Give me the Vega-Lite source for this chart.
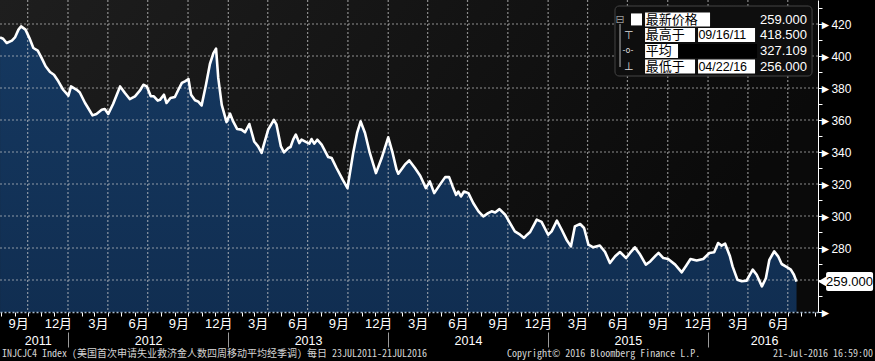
{
  "$schema": "https://vega.github.io/schema/vega-lite/v6.json",
  "width": 818,
  "height": 312,
  "autosize": {"type": "none"},
  "padding": {"left": 0, "top": 0, "right": 57, "bottom": 49},
  "background": "#000000",
  "config": {
    "view": {"stroke": null, "fill": {"gradient": "linear", "x1": 0, "y1": 0, "x2": 1, "y2": 0.3, "stops": [{"offset": 0, "color": "#1e1e1e"}, {"offset": 1, "color": "#0a0a0a"}]}},
    "axis": {"labelFont": "Liberation Sans, Noto Sans CJK SC", "labelColor": "#ffffff", "tickColor": "#ffffff", "domainColor": "#ffffff", "labelFontSize": 13, "grid": false},
    "text": {"baseline": "middle"}
  },
  "datasets": {
    "claims": [
      {"date": "2011-07-30", "value": 411.6}, {"date": "2011-08-06", "value": 410.8}, {"date": "2011-08-14", "value": 408.1}, {"date": "2011-08-26", "value": 409.6},
      {"date": "2011-09-02", "value": 411.6}, {"date": "2011-09-10", "value": 416.5}, {"date": "2011-09-16", "value": 418.5}, {"date": "2011-09-26", "value": 416.5},
      {"date": "2011-10-05", "value": 411.2}, {"date": "2011-10-14", "value": 405.0}, {"date": "2011-10-24", "value": 403.3}, {"date": "2011-11-02", "value": 398.7},
      {"date": "2011-11-11", "value": 393.6}, {"date": "2011-11-21", "value": 390.0}, {"date": "2011-11-30", "value": 388.3}, {"date": "2011-12-10", "value": 384.2},
      {"date": "2011-12-21", "value": 378.9}, {"date": "2012-01-02", "value": 375.2}, {"date": "2012-01-08", "value": 381.0}, {"date": "2012-01-21", "value": 378.9},
      {"date": "2012-01-28", "value": 377.2}, {"date": "2012-02-09", "value": 370.6}, {"date": "2012-02-16", "value": 367.5}, {"date": "2012-02-26", "value": 362.9},
      {"date": "2012-03-06", "value": 363.8}, {"date": "2012-03-18", "value": 366.4}, {"date": "2012-03-25", "value": 366.9}, {"date": "2012-04-02", "value": 363.8},
      {"date": "2012-04-13", "value": 370.0}, {"date": "2012-04-29", "value": 381.0}, {"date": "2012-05-10", "value": 376.9}, {"date": "2012-05-21", "value": 373.1},
      {"date": "2012-06-02", "value": 374.8}, {"date": "2012-06-13", "value": 378.3}, {"date": "2012-06-21", "value": 382.0}, {"date": "2012-06-29", "value": 381.0},
      {"date": "2012-07-08", "value": 374.8}, {"date": "2012-07-15", "value": 374.8}, {"date": "2012-07-24", "value": 372.1}, {"date": "2012-07-29", "value": 372.6},
      {"date": "2012-08-07", "value": 375.8}, {"date": "2012-08-13", "value": 370.6}, {"date": "2012-08-22", "value": 373.8}, {"date": "2012-09-01", "value": 374.4},
      {"date": "2012-09-09", "value": 378.9}, {"date": "2012-09-17", "value": 383.2}, {"date": "2012-09-24", "value": 384.2}, {"date": "2012-10-02", "value": 385.6},
      {"date": "2012-10-08", "value": 375.8}, {"date": "2012-10-17", "value": 372.3}, {"date": "2012-10-24", "value": 371.6}, {"date": "2012-11-01", "value": 369.1},
      {"date": "2012-11-11", "value": 382.0}, {"date": "2012-11-20", "value": 395.0}, {"date": "2012-11-28", "value": 401.8}, {"date": "2012-12-04", "value": 404.6},
      {"date": "2012-12-09", "value": 386.3}, {"date": "2012-12-17", "value": 369.5}, {"date": "2012-12-28", "value": 358.7}, {"date": "2013-01-05", "value": 364.0},
      {"date": "2013-01-12", "value": 359.1}, {"date": "2013-01-21", "value": 354.4}, {"date": "2013-01-31", "value": 354.0}, {"date": "2013-02-08", "value": 352.3},
      {"date": "2013-02-18", "value": 357.5}, {"date": "2013-03-01", "value": 346.6}, {"date": "2013-03-10", "value": 343.5}, {"date": "2013-03-18", "value": 339.4},
      {"date": "2013-03-22", "value": 343.5}, {"date": "2013-04-02", "value": 354.0}, {"date": "2013-04-15", "value": 360.1}, {"date": "2013-04-21", "value": 357.1},
      {"date": "2013-05-01", "value": 343.5}, {"date": "2013-05-08", "value": 339.8}, {"date": "2013-05-18", "value": 342.5}, {"date": "2013-05-23", "value": 343.1},
      {"date": "2013-05-29", "value": 347.7}, {"date": "2013-06-04", "value": 350.9}, {"date": "2013-06-12", "value": 345.6}, {"date": "2013-06-17", "value": 347.7},
      {"date": "2013-06-29", "value": 346.0}, {"date": "2013-07-05", "value": 345.2}, {"date": "2013-07-10", "value": 348.1}, {"date": "2013-07-16", "value": 345.2},
      {"date": "2013-07-23", "value": 347.7}, {"date": "2013-08-02", "value": 344.6}, {"date": "2013-08-17", "value": 336.8}, {"date": "2013-08-25", "value": 336.2},
      {"date": "2013-09-05", "value": 330.0}, {"date": "2013-09-19", "value": 322.7}, {"date": "2013-09-30", "value": 317.4}, {"date": "2013-10-13", "value": 339.4},
      {"date": "2013-10-22", "value": 351.9}, {"date": "2013-10-30", "value": 359.1}, {"date": "2013-11-09", "value": 351.9}, {"date": "2013-11-20", "value": 339.4},
      {"date": "2013-12-04", "value": 326.8}, {"date": "2013-12-17", "value": 336.2}, {"date": "2014-01-01", "value": 349.2}, {"date": "2014-01-11", "value": 339.4},
      {"date": "2014-01-20", "value": 329.0}, {"date": "2014-01-24", "value": 326.4}, {"date": "2014-02-08", "value": 332.1}, {"date": "2014-02-18", "value": 334.7},
      {"date": "2014-03-03", "value": 330.0}, {"date": "2014-03-15", "value": 325.2}, {"date": "2014-03-28", "value": 317.4}, {"date": "2014-04-06", "value": 321.6},
      {"date": "2014-04-16", "value": 314.3}, {"date": "2014-04-29", "value": 319.6}, {"date": "2014-05-11", "value": 324.3}, {"date": "2014-05-20", "value": 324.3},
      {"date": "2014-05-28", "value": 318.5}, {"date": "2014-06-05", "value": 313.2}, {"date": "2014-06-10", "value": 315.3}, {"date": "2014-06-16", "value": 312.2},
      {"date": "2014-06-23", "value": 315.3}, {"date": "2014-07-03", "value": 314.3}, {"date": "2014-07-14", "value": 308.1}, {"date": "2014-07-26", "value": 302.9},
      {"date": "2014-08-06", "value": 299.7}, {"date": "2014-08-17", "value": 301.8}, {"date": "2014-08-25", "value": 302.9}, {"date": "2014-09-02", "value": 302.2},
      {"date": "2014-09-12", "value": 304.3}, {"date": "2014-09-25", "value": 300.8}, {"date": "2014-10-06", "value": 295.5}, {"date": "2014-10-17", "value": 290.4},
      {"date": "2014-10-29", "value": 288.3}, {"date": "2014-11-07", "value": 286.3}, {"date": "2014-11-14", "value": 288.3}, {"date": "2014-11-21", "value": 290.0},
      {"date": "2014-12-06", "value": 297.7}, {"date": "2014-12-17", "value": 296.3}, {"date": "2015-01-01", "value": 288.3}, {"date": "2015-01-09", "value": 290.4},
      {"date": "2015-01-21", "value": 297.1}, {"date": "2015-02-01", "value": 291.4}, {"date": "2015-02-12", "value": 285.2}, {"date": "2015-02-22", "value": 281.0},
      {"date": "2015-03-03", "value": 293.5}, {"date": "2015-03-15", "value": 295.0}, {"date": "2015-03-24", "value": 292.5}, {"date": "2015-04-03", "value": 282.1},
      {"date": "2015-04-14", "value": 280.4}, {"date": "2015-04-29", "value": 281.6}, {"date": "2015-05-11", "value": 277.5}, {"date": "2015-05-22", "value": 270.6},
      {"date": "2015-06-03", "value": 274.8}, {"date": "2015-06-14", "value": 277.5}, {"date": "2015-06-28", "value": 273.7}, {"date": "2015-07-07", "value": 276.9},
      {"date": "2015-07-18", "value": 280.4}, {"date": "2015-07-30", "value": 275.9}, {"date": "2015-08-12", "value": 269.6}, {"date": "2015-08-22", "value": 271.6},
      {"date": "2015-09-04", "value": 275.4}, {"date": "2015-09-10", "value": 276.9}, {"date": "2015-09-21", "value": 273.7}, {"date": "2015-10-02", "value": 273.1},
      {"date": "2015-10-18", "value": 269.6}, {"date": "2015-11-02", "value": 264.8}, {"date": "2015-11-12", "value": 268.9}, {"date": "2015-11-22", "value": 273.1},
      {"date": "2015-12-06", "value": 272.2}, {"date": "2015-12-21", "value": 273.1}, {"date": "2016-01-04", "value": 276.9}, {"date": "2016-01-15", "value": 277.3},
      {"date": "2016-01-24", "value": 283.1}, {"date": "2016-02-01", "value": 281.5}, {"date": "2016-02-09", "value": 282.7}, {"date": "2016-02-20", "value": 274.8},
      {"date": "2016-02-26", "value": 268.5}, {"date": "2016-03-08", "value": 260.2}, {"date": "2016-03-18", "value": 259.2}, {"date": "2016-03-29", "value": 259.6},
      {"date": "2016-04-12", "value": 266.5}, {"date": "2016-04-21", "value": 263.3}, {"date": "2016-05-03", "value": 256.0}, {"date": "2016-05-12", "value": 261.1},
      {"date": "2016-05-20", "value": 272.6}, {"date": "2016-05-31", "value": 277.9}, {"date": "2016-06-09", "value": 274.8}, {"date": "2016-06-17", "value": 270.0},
      {"date": "2016-06-29", "value": 268.1}, {"date": "2016-07-08", "value": 266.5}, {"date": "2016-07-15", "value": 263.3}, {"date": "2016-07-21", "value": 259.0}
    ],
    "xgrid": [
      {"date": "2011-10-01"}, {"date": "2012-01-01"}, {"date": "2012-04-01"}, {"date": "2012-07-01"}, {"date": "2012-10-01"},
      {"date": "2013-01-01"}, {"date": "2013-04-01"}, {"date": "2013-07-01"}, {"date": "2013-10-01"},
      {"date": "2014-01-01"}, {"date": "2014-04-01"}, {"date": "2014-07-01"}, {"date": "2014-10-01"},
      {"date": "2015-01-01"}, {"date": "2015-04-01"}, {"date": "2015-07-01"}, {"date": "2015-10-01"},
      {"date": "2016-01-01"}, {"date": "2016-04-01"}, {"date": "2016-07-01"}
    ],
    "ygrid": [{"value": 260}, {"value": 280}, {"value": 300}, {"value": 320}, {"value": 340}, {"value": 360}, {"value": 380}, {"value": 400}, {"value": 420}],
    "one": [{"note": "annotation"}]
  },
  "resolve": {"axis": {"x": "independent", "y": "independent"}},
  "layer": [
    {
      "data": {"name": "claims"},
      "mark": {"type": "area", "clip": true, "color": {"gradient": "linear", "x1": 0, "y1": 0, "x2": 0, "y2": 1, "stops": [{"offset": 0, "color": "#153860"}, {"offset": 1, "color": "#0a203d"}]}},
      "encoding": {
        "x": {"field": "date", "type": "temporal",
          "scale": {"domain": [{"year": 2011, "month": 7, "date": 29, "hours": 20}, {"year": 2016, "month": 9, "date": 8}], "nice": false},
          "axis": {"orient": "bottom", "title": null, "tickCount": {"interval": "month", "step": 1},
            "labelExpr": "month(datum.value) % 3 == 2 && datum.value < datetime(2016, 7, 1) ? (month(datum.value) + 1) + '月' : ''",
            "labelOffset": 3.5, "labelOverlap": false, "labelFlush": false, "labelBound": false, "labelPadding": 1, "labelFontSize": 13,
            "tickSize": 4, "domain": true, "domainColor": "#a8bcd2", "domainWidth": 1.5, "domainDash": [2, 2], "grid": false, "zindex": 1}},
        "y": {"field": "value", "type": "quantitative",
          "scale": {"domain": [240, 435], "nice": false, "zero": false},
          "axis": {"orient": "right", "title": null,
            "values": [260, 280, 300, 320, 340, 360, 380, 400, 420],
            "labelExpr": "datum.value >= 280 ? '►' + datum.value : ''",
            "tickSize": 4, "labelPadding": -3, "labelFontSize": 12, "labelOverlap": false, "labelBound": false, "labelFlush": false,
            "grid": false, "zindex": 1}}
      }
    },
    {
      "data": {"name": "xgrid"},
      "mark": {"type": "rule", "color": "#cfcfcf", "strokeWidth": 1.2, "strokeDash": [2, 2], "opacity": 0.65},
      "encoding": {
        "x": {"field": "date", "type": "temporal", "axis": null},
        "y": {"datum": 435, "type": "quantitative", "axis": null},
        "y2": {"datum": 240}
      }
    },
    {
      "data": {"name": "ygrid"},
      "mark": {"type": "rule", "color": "#cfcfcf", "strokeWidth": 1.2, "strokeDash": [2, 2], "opacity": 0.65},
      "encoding": {
        "x": {"datum": {"year": 2011, "month": 7, "date": 29, "hours": 20}, "type": "temporal", "axis": null},
        "x2": {"datum": {"year": 2016, "month": 9, "date": 8}},
        "y": {"field": "value", "type": "quantitative", "axis": null}
      }
    },
    {
      "data": {"name": "claims"},
      "mark": {"type": "line", "clip": true, "color": "#ffffff", "strokeWidth": 2.6, "strokeJoin": "round"},
      "encoding": {
        "x": {"field": "date", "type": "temporal",
          "axis": {"orient": "bottom", "title": null,
            "values": [{"year": 2011, "month": 10, "date": 24}, {"year": 2012, "month": 7, "date": 2}, {"year": 2013, "month": 7, "date": 2}, {"year": 2014, "month": 7, "date": 2}, {"year": 2015, "month": 7, "date": 2}, {"year": 2016, "month": 5, "date": 8}],
            "labelExpr": "timeFormat(datum.value, '%Y')", "tickSize": 0, "domain": false, "grid": false,
            "labelPadding": 22, "labelFontSize": 12.5, "labelOverlap": false, "labelFlush": false, "labelBound": false, "zindex": 1}},
        "y": {"field": "value", "type": "quantitative",
          "axis": {"orient": "right", "title": null, "values": [240, 250, 270, 290, 310, 330, 350, 370, 390, 410, 430], "labelExpr": "datum.value == 240 ? '►' : ''", "labelPadding": -3, "labelFontSize": 12, "labelOverlap": false, "labelBound": false, "labelFlush": false, "tickSize": 4, "domain": false, "grid": false, "zindex": 1}}
      }
    },
    {
      "data": {"name": "one"},
      "mark": {"type": "rect", "fill": "#0e0e0e", "stroke": "#444444", "strokeWidth": 1, "cornerRadius": 4},
      "encoding": {
        "x": {"datum": {"year": 2015, "month": 6, "date": 2, "hours": 16}, "type": "temporal",
          "axis": {"orient": "bottom", "title": null, "tickCount": {"interval": "year", "step": 1}, "labels": false, "domain": false, "grid": false, "offset": 20, "tickSize": 15, "tickColor": "#9a9a9a"}},
        "x2": {"datum": {"year": 2016, "month": 8, "date": 25, "hours": 10}},
        "y": {"datum": 431.25, "type": "quantitative", "axis": null},
        "y2": {"datum": 387.5}
      }
    },
    {
      "data": {"name": "one"},
      "mark": {"type": "rect", "fill": "#000000"},
      "encoding": {
        "x": {"datum": {"year": 2015, "month": 10, "date": 24, "hours": 12}, "type": "temporal", "axis": null},
        "x2": {"datum": {"year": 2016, "month": 4, "date": 21, "hours": 20}},
        "y": {"datum": 407.5, "type": "quantitative", "axis": null},
        "y2": {"datum": 398.75}
      }
    },
    {
      "data": {"name": "one"},
      "mark": {"type": "rect", "fill": "#ffffff"},
      "encoding": {
        "x": {"datum": {"year": 2015, "month": 8, "date": 10, "hours": 5}, "type": "temporal", "axis": null},
        "x2": {"datum": {"year": 2016, "month": 1, "date": 5, "hours": 14}},
        "y": {"datum": 427.2, "type": "quantitative", "axis": null},
        "y2": {"datum": 418.4}
      }
    },
    {
      "data": {"name": "one"},
      "mark": {"type": "rect", "fill": "#ffffff"},
      "encoding": {
        "x": {"datum": {"year": 2015, "month": 8, "date": 10, "hours": 5}, "type": "temporal", "axis": null},
        "x2": {"datum": {"year": 2015, "month": 12, "date": 2, "hours": 7}},
        "y": {"datum": 417.5, "type": "quantitative", "axis": null},
        "y2": {"datum": 408.75}
      }
    },
    {
      "data": {"name": "one"},
      "mark": {"type": "rect", "fill": "#ffffff"},
      "encoding": {
        "x": {"datum": {"year": 2015, "month": 12, "date": 9, "hours": 5}, "type": "temporal", "axis": null},
        "x2": {"datum": {"year": 2016, "month": 4, "date": 17, "hours": 7}},
        "y": {"datum": 417.5, "type": "quantitative", "axis": null},
        "y2": {"datum": 408.75}
      }
    },
    {
      "data": {"name": "one"},
      "mark": {"type": "rect", "fill": "#ffffff"},
      "encoding": {
        "x": {"datum": {"year": 2015, "month": 8, "date": 10, "hours": 5}, "type": "temporal", "axis": null},
        "x2": {"datum": {"year": 2015, "month": 10, "date": 24, "hours": 12}},
        "y": {"datum": 407.5, "type": "quantitative", "axis": null},
        "y2": {"datum": 398.75}
      }
    },
    {
      "data": {"name": "one"},
      "mark": {"type": "rect", "fill": "#ffffff"},
      "encoding": {
        "x": {"datum": {"year": 2015, "month": 8, "date": 10, "hours": 5}, "type": "temporal", "axis": null},
        "x2": {"datum": {"year": 2015, "month": 12, "date": 2, "hours": 7}},
        "y": {"datum": 397.8, "type": "quantitative", "axis": null},
        "y2": {"datum": 389.1}
      }
    },
    {
      "data": {"name": "one"},
      "mark": {"type": "rect", "fill": "#ffffff"},
      "encoding": {
        "x": {"datum": {"year": 2015, "month": 12, "date": 9, "hours": 5}, "type": "temporal", "axis": null},
        "x2": {"datum": {"year": 2016, "month": 4, "date": 17, "hours": 7}},
        "y": {"datum": 397.8, "type": "quantitative", "axis": null},
        "y2": {"datum": 389.1}
      }
    },
    {
      "data": {"name": "one"},
      "mark": {"type": "rect", "fill": "#ffffff"},
      "encoding": {
        "x": {"datum": {"year": 2015, "month": 7, "date": 9, "hours": 5}, "type": "temporal", "axis": null},
        "x2": {"datum": {"year": 2015, "month": 8, "date": 3, "hours": 7}},
        "y": {"datum": 426.6, "type": "quantitative", "axis": null},
        "y2": {"datum": 419.1}
      }
    },
    {
      "data": {"name": "one"},
      "mark": {"type": "rule", "color": "#9a9a9a", "strokeWidth": 1.2},
      "encoding": {
        "x": {"datum": {"year": 2015, "month": 6, "date": 14, "hours": 2}, "type": "temporal", "axis": null},
        "y": {"datum": 420.0, "type": "quantitative", "axis": null},
        "y2": {"datum": 393.2}
      }
    },
    {
      "data": {"name": "one"},
      "mark": {"type": "text", "text": "⊟", "color": "#9a9a9a", "font": "DejaVu Sans", "fontSize": 11, "align": "center"},
      "encoding": {
        "x": {"datum": {"year": 2015, "month": 6, "date": 14, "hours": 2}, "type": "temporal", "axis": null},
        "y": {"datum": 422.5, "type": "quantitative", "axis": null}
      }
    },
    {
      "data": {"name": "one"},
      "mark": {"type": "text", "text": "⊤", "color": "#dddddd", "font": "DejaVu Sans", "fontSize": 11, "align": "center"},
      "encoding": {
        "x": {"datum": {"year": 2015, "month": 7, "date": 4, "hours": 9}, "type": "temporal", "axis": null},
        "y": {"datum": 412.75, "type": "quantitative", "axis": null}
      }
    },
    {
      "data": {"name": "one"},
      "mark": {"type": "text", "text": "-o-", "color": "#dddddd", "font": "DejaVu Sans", "fontSize": 8, "align": "center"},
      "encoding": {
        "x": {"datum": {"year": 2015, "month": 7, "date": 2}, "type": "temporal", "axis": null},
        "y": {"datum": 403.0, "type": "quantitative", "axis": null}
      }
    },
    {
      "data": {"name": "one"},
      "mark": {"type": "text", "text": "⊥", "color": "#dddddd", "font": "DejaVu Sans", "fontSize": 11, "align": "center"},
      "encoding": {
        "x": {"datum": {"year": 2015, "month": 7, "date": 4, "hours": 9}, "type": "temporal", "axis": null},
        "y": {"datum": 393.25, "type": "quantitative", "axis": null}
      }
    },
    {
      "data": {"name": "one"},
      "mark": {"type": "text", "text": "最新价格", "color": "#000000", "font": "Noto Sans CJK SC", "fontSize": 13, "align": "left"},
      "encoding": {
        "x": {"datum": {"year": 2015, "month": 8, "date": 12}, "type": "temporal", "axis": null},
        "y": {"datum": 422.7, "type": "quantitative", "axis": null}
      }
    },
    {
      "data": {"name": "one"},
      "mark": {"type": "text", "text": "最高于", "color": "#000000", "font": "Noto Sans CJK SC", "fontSize": 13, "align": "left"},
      "encoding": {
        "x": {"datum": {"year": 2015, "month": 8, "date": 12}, "type": "temporal", "axis": null},
        "y": {"datum": 413.0, "type": "quantitative", "axis": null}
      }
    },
    {
      "data": {"name": "one"},
      "mark": {"type": "text", "text": "平均", "color": "#000000", "font": "Noto Sans CJK SC", "fontSize": 13, "align": "left"},
      "encoding": {
        "x": {"datum": {"year": 2015, "month": 8, "date": 12}, "type": "temporal", "axis": null},
        "y": {"datum": 403.1, "type": "quantitative", "axis": null}
      }
    },
    {
      "data": {"name": "one"},
      "mark": {"type": "text", "text": "最低于", "color": "#000000", "font": "Noto Sans CJK SC", "fontSize": 13, "align": "left"},
      "encoding": {
        "x": {"datum": {"year": 2015, "month": 8, "date": 12}, "type": "temporal", "axis": null},
        "y": {"datum": 393.4, "type": "quantitative", "axis": null}
      }
    },
    {
      "data": {"name": "one"},
      "mark": {"type": "text", "text": "09/16/11", "color": "#000000", "font": "Liberation Sans", "fontSize": 12.5, "align": "left"},
      "encoding": {
        "x": {"datum": {"year": 2015, "month": 12, "date": 10}, "type": "temporal", "axis": null},
        "y": {"datum": 413.0, "type": "quantitative", "axis": null}
      }
    },
    {
      "data": {"name": "one"},
      "mark": {"type": "text", "text": "04/22/16", "color": "#000000", "font": "Liberation Sans", "fontSize": 12.5, "align": "left"},
      "encoding": {
        "x": {"datum": {"year": 2015, "month": 12, "date": 10}, "type": "temporal", "axis": null},
        "y": {"datum": 393.4, "type": "quantitative", "axis": null}
      }
    },
    {
      "data": {"name": "one"},
      "mark": {"type": "text", "text": "259.000", "color": "#ffffff", "font": "Liberation Sans", "fontSize": 13, "align": "right"},
      "encoding": {
        "x": {"datum": {"year": 2016, "month": 8, "date": 14}, "type": "temporal", "axis": null},
        "y": {"datum": 422.7, "type": "quantitative", "axis": null}
      }
    },
    {
      "data": {"name": "one"},
      "mark": {"type": "text", "text": "418.500", "color": "#ffffff", "font": "Liberation Sans", "fontSize": 13, "align": "right"},
      "encoding": {
        "x": {"datum": {"year": 2016, "month": 8, "date": 14}, "type": "temporal", "axis": null},
        "y": {"datum": 413.0, "type": "quantitative", "axis": null}
      }
    },
    {
      "data": {"name": "one"},
      "mark": {"type": "text", "text": "327.109", "color": "#ffffff", "font": "Liberation Sans", "fontSize": 13, "align": "right"},
      "encoding": {
        "x": {"datum": {"year": 2016, "month": 8, "date": 14}, "type": "temporal", "axis": null},
        "y": {"datum": 403.1, "type": "quantitative", "axis": null}
      }
    },
    {
      "data": {"name": "one"},
      "mark": {"type": "text", "text": "256.000", "color": "#ffffff", "font": "Liberation Sans", "fontSize": 13, "align": "right"},
      "encoding": {
        "x": {"datum": {"year": 2016, "month": 8, "date": 14}, "type": "temporal", "axis": null},
        "y": {"datum": 393.4, "type": "quantitative", "axis": null}
      }
    },
    {
      "data": {"name": "one"},
      "mark": {"type": "rect", "fill": "#ffffff", "cornerRadius": 2},
      "encoding": {
        "x": {"datum": {"year": 2016, "month": 9, "date": 26, "hours": 10}, "type": "temporal", "axis": null},
        "x2": {"datum": {"year": 2017, "month": 1, "date": 11, "hours": 17}},
        "y": {"datum": 265.0, "type": "quantitative", "axis": null},
        "y2": {"datum": 253.1}
      }
    },
    {
      "data": {"name": "one"},
      "mark": {"type": "point", "shape": "triangle-left", "filled": true, "color": "#ffffff", "opacity": 1, "size": 170},
      "encoding": {
        "x": {"datum": {"year": 2016, "month": 9, "date": 20, "hours": 12}, "type": "temporal", "axis": null},
        "y": {"datum": 259.06, "type": "quantitative", "axis": null}
      }
    },
    {
      "data": {"name": "one"},
      "mark": {"type": "text", "text": "259.000", "color": "#000000", "font": "Liberation Sans", "fontSize": 13, "align": "center"},
      "encoding": {
        "x": {"datum": {"year": 2016, "month": 11, "date": 19}, "type": "temporal", "axis": null},
        "y": {"datum": 259.06, "type": "quantitative", "axis": null}
      }
    },
    {
      "data": {"name": "one"},
      "mark": {"type": "text", "text": "INJCJC4 Index (美国首次申请失业救济金人数四周移动平均经季调)  每日 23JUL2011-21JUL2016", "color": "#d4d4d4", "font": "Noto Sans Mono CJK SC, DejaVu Sans Mono, monospace", "fontSize": 10, "align": "left"},
      "encoding": {
        "x": {"datum": {"year": 2011, "month": 8, "date": 3, "hours": 7}, "type": "temporal", "axis": null},
        "y": {"datum": 213.5, "type": "quantitative", "axis": null}
      }
    },
    {
      "data": {"name": "one"},
      "mark": {"type": "text", "text": "Copyright© 2016 Bloomberg Finance L.P.", "color": "#d4d4d4", "font": "Noto Sans Mono CJK SC, DejaVu Sans Mono, monospace", "fontSize": 10, "align": "left"},
      "encoding": {
        "x": {"datum": {"year": 2014, "month": 9, "date": 29}, "type": "temporal", "axis": null},
        "y": {"datum": 213.5, "type": "quantitative", "axis": null}
      }
    },
    {
      "data": {"name": "one"},
      "mark": {"type": "text", "text": "21-Jul-2016 16:59:00", "color": "#d4d4d4", "font": "Noto Sans Mono CJK SC, DejaVu Sans Mono, monospace", "fontSize": 10, "align": "right"},
      "encoding": {
        "x": {"datum": {"year": 2017, "month": 1, "date": 11, "hours": 17}, "type": "temporal", "axis": null},
        "y": {"datum": 213.5, "type": "quantitative", "axis": null}
      }
    }
  ]
}
